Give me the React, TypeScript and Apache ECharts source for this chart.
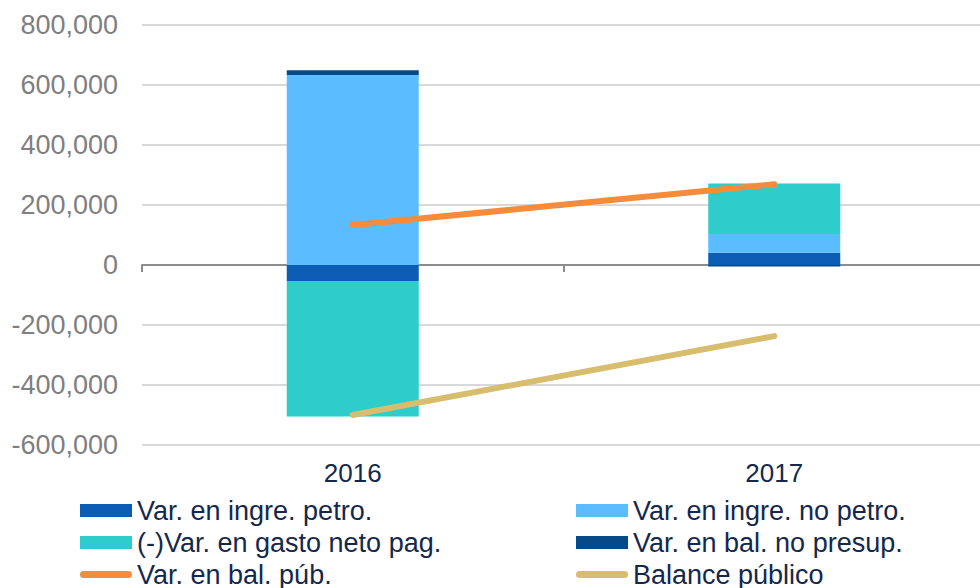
import React, { useEffect, useRef } from "react";
import * as echarts from "echarts";

const categories = ["2016", "2017"];
const varIngrePetro = [-53000, 41000];
const varIngreNoPetro = [633000, 62000];
const varGastoNeto = [-452000, 169000];
const varBalNoPresup = [16000, -5000];
const varBalPub = [133000, 269000];
const balancePublico = [-500000, -237000];

const names = [
  "Var. en ingre. petro.",
  "Var. en ingre. no petro.",
  "(-)Var. en gasto neto pag.",
  "Var. en bal. no presup.",
  "Var. en bal. púb.",
  "Balance público",
];

const colors = ["#0B5CB5", "#5BBCFF", "#2ECDCB", "#064A87", "#F68B3B", "#D7BD6E"];

const lineIcon =
  "path://M0,0 L0.01,0 M52,13 L51.99,13 M3.5,3 L48.5,3 A3.5,3.5 0 0 1 48.5,10 L3.5,10 A3.5,3.5 0 0 1 3.5,3 Z";

export default function App() {
  const ref = useRef<HTMLDivElement>(null);
  useEffect(() => {
    if (!ref.current) return;
    const chart = echarts.init(ref.current, undefined, { renderer: "svg" });
    const barSeries = [varIngrePetro, varIngreNoPetro, varGastoNeto, varBalNoPresup].map((d, i) => ({
      name: names[i],
      type: "bar",
      stack: "total",
      data: d,
      barWidth: 132,
      xAxisIndex: 0,
      itemStyle: { color: colors[i] },
    }));
    const lineSeries = [varBalPub, balancePublico].map((d, i) => ({
      name: names[4 + i],
      type: "line",
      data: d,
      xAxisIndex: 0,
      showSymbol: false,
      symbol: "none",
      lineStyle: { color: colors[4 + i], width: 6, cap: "round" },
      itemStyle: { color: colors[4 + i] },
      z: 5,
    }));
    const legendText = { fontSize: 27, color: "#14284B", fontFamily: "Liberation Sans, Arial, sans-serif" };
    const legendBase = {
      orient: "vertical",
      top: 497,
      height: 120,
      padding: 0,
      itemWidth: 52,
      itemHeight: 13,
      itemGap: 5,
      textStyle: legendText,
      selectedMode: false,
      itemStyle: { borderWidth: 0 },
    };
    chart.setOption({
      animation: false,
      textStyle: { fontFamily: "Liberation Sans, Arial, sans-serif" },
      grid: { left: 142, width: 843, top: 25, height: 420 },
      legend: [
        {
          ...legendBase,
          left: 80,
          data: [
            { name: names[0], icon: "rect" },
            { name: names[2], icon: "rect" },
            { name: names[4], icon: lineIcon },
          ],
        },
        {
          ...legendBase,
          left: 576,
          data: [
            { name: names[1], icon: "rect" },
            { name: names[3], icon: "rect" },
            { name: names[5], icon: lineIcon },
          ],
        },
      ],
      xAxis: [
        {
          type: "category",
          data: categories,
          position: "bottom",
          axisLine: { show: false, onZero: false },
          axisTick: { show: false },
          axisLabel: { fontSize: 26, color: "#14284B", margin: 15 },
        },
        {
          type: "category",
          data: categories,
          position: "top",
          axisLine: { show: true, onZero: true, lineStyle: { color: "#8C8C8C", width: 2 } },
          axisTick: { show: true, inside: true, length: 7, lineStyle: { color: "#8C8C8C", width: 2 } },
          axisLabel: { show: false },
        },
      ],
      yAxis: {
        type: "value",
        min: -600000,
        max: 800000,
        interval: 200000,
        axisLine: { show: false },
        axisTick: { show: false },
        splitLine: { lineStyle: { color: "#D9D9D9", width: 2 } },
        axisLabel: {
          fontSize: 27,
          color: "#7F7F7F",
          margin: 24,
          formatter: (v: number) => v.toLocaleString("en-US"),
        },
      },
      series: [...barSeries, ...lineSeries],
    });
    return () => chart.dispose();
  }, []);
  return (
    <div style={{ position: "absolute", left: 0, top: 0, width: 980, height: 588, overflow: "hidden" }}>
      <div ref={ref} style={{ width: 995, height: 588 }} />
    </div>
  );
}
